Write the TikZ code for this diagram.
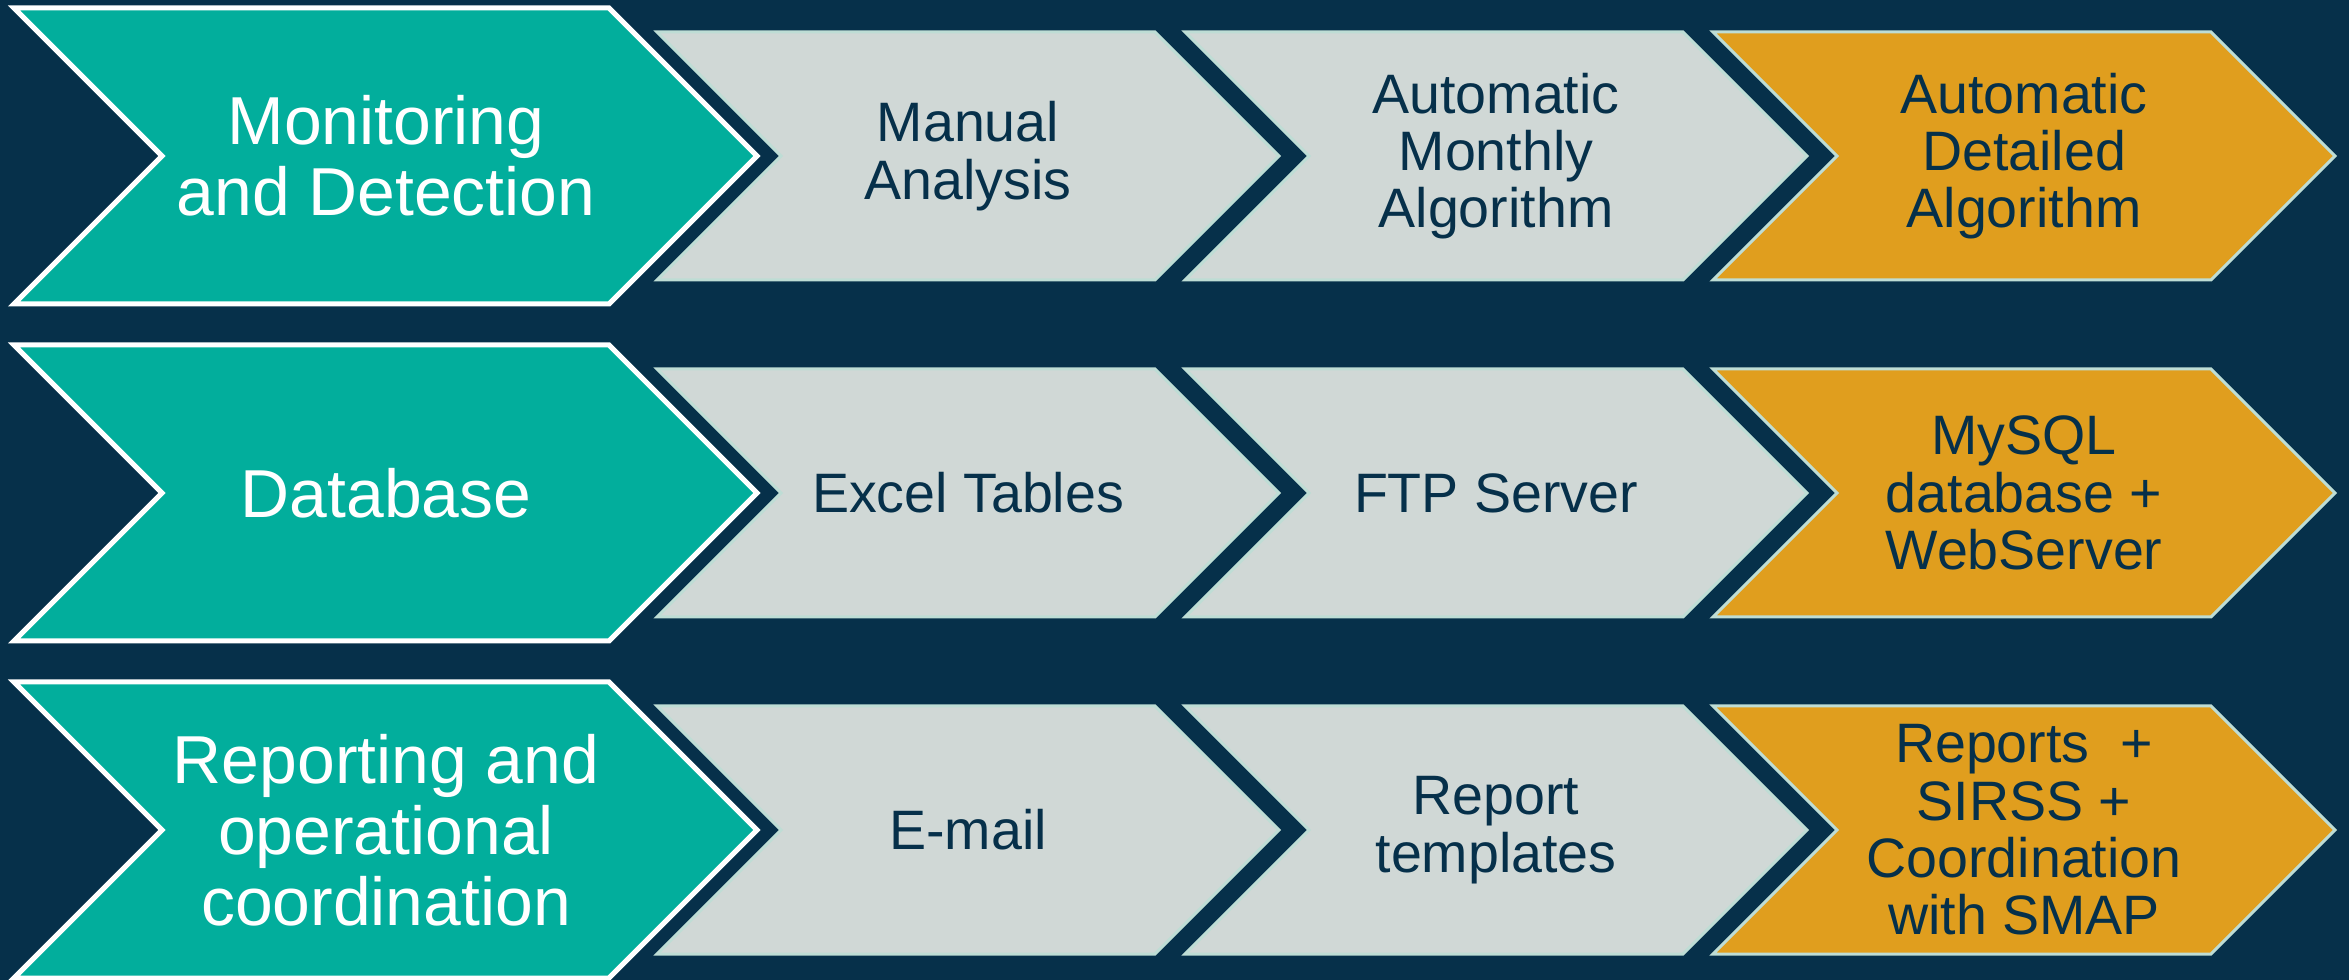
\documentclass[tikz,border=0pt]{standalone}
\usepackage{fontspec}
\setmainfont{Liberation Sans}

\definecolor{navy}{HTML}{06304A}
\definecolor{teal}{HTML}{02AE9C}
\definecolor{pale}{HTML}{D0D8D6}
\definecolor{amber}{HTML}{E09E1E}
\definecolor{rim}{HTML}{BEDDD5}

% chevron: style, left x, centre y, top width, half height
\newcommand{\chevron}[5]{%
  \filldraw[#1] (#2,#3-#5) -- ++(#4,0) -- ++(#5,#5) -- ++(-#5,#5)
    -- ++(-#4,0) -- ++(#5,-#5) -- cycle;}

\tikzset{
  lead/.style={fill=teal, draw=white, line width=0.05cm},
  plain/.style={fill=pale, draw=rim, line width=0.03cm},
  goal/.style={fill=amber, draw=rim, line width=0.03cm},
  bigtxt/.style={text=white, align=center, inner sep=0pt,
    font=\fontsize{19.3}{20.2}\selectfont},
  smalltxt/.style={text=navy, align=center, inner sep=0pt,
    font=\fontsize{15.8}{16.3}\selectfont},
}

\begin{document}
\begin{tikzpicture}[x=0.01cm, y=-0.01cm]
  \fill[navy] (0,0) rectangle (2349,980);
  \useasboundingbox (0,0) rectangle (2349,980);

  % three rows of chevrons
  \foreach \y in {156,493,830} {
    \chevron{lead}{14}{\y}{595}{148}
    \chevron{plain}{657}{\y}{498}{124}
    \chevron{plain}{1185}{\y}{498}{124}
    \chevron{goal}{1713}{\y}{498}{124}
  }

  % row 1
  \node[bigtxt] (mon) at (386,156) {Monitoring\\and Detection};
  \node[smalltxt] (manual) at (968,156) {Manual\\Analysis};
  \node[smalltxt] (monthly) at (1496,156) {Automatic\\Monthly\\Algorithm};
  \node[smalltxt] (detailed) at (2024,156) {Automatic\\Detailed\\Algorithm};

  % row 2
  \node[bigtxt] (db) at (386,493) {Database};
  \node[smalltxt] (excel) at (968,493) {Excel Tables};
  \node[smalltxt] (ftp) at (1496,493) {FTP Server};
  \node[smalltxt] (mysql) at (2024,493) {MySQL\\database +\\WebServer};

  % row 3
  \node[bigtxt] (rep) at (386,830) {Reporting and\\operational\\coordination};
  \node[smalltxt] (email) at (968,830) {E-mail};
  \node[smalltxt] (templ) at (1496,830) {Report\\templates};
  \node[smalltxt] (smap) at (2024,830) {Reports\ \ +\\SIRSS +\\Coordination\\with SMAP};
\end{tikzpicture}
\end{document}
